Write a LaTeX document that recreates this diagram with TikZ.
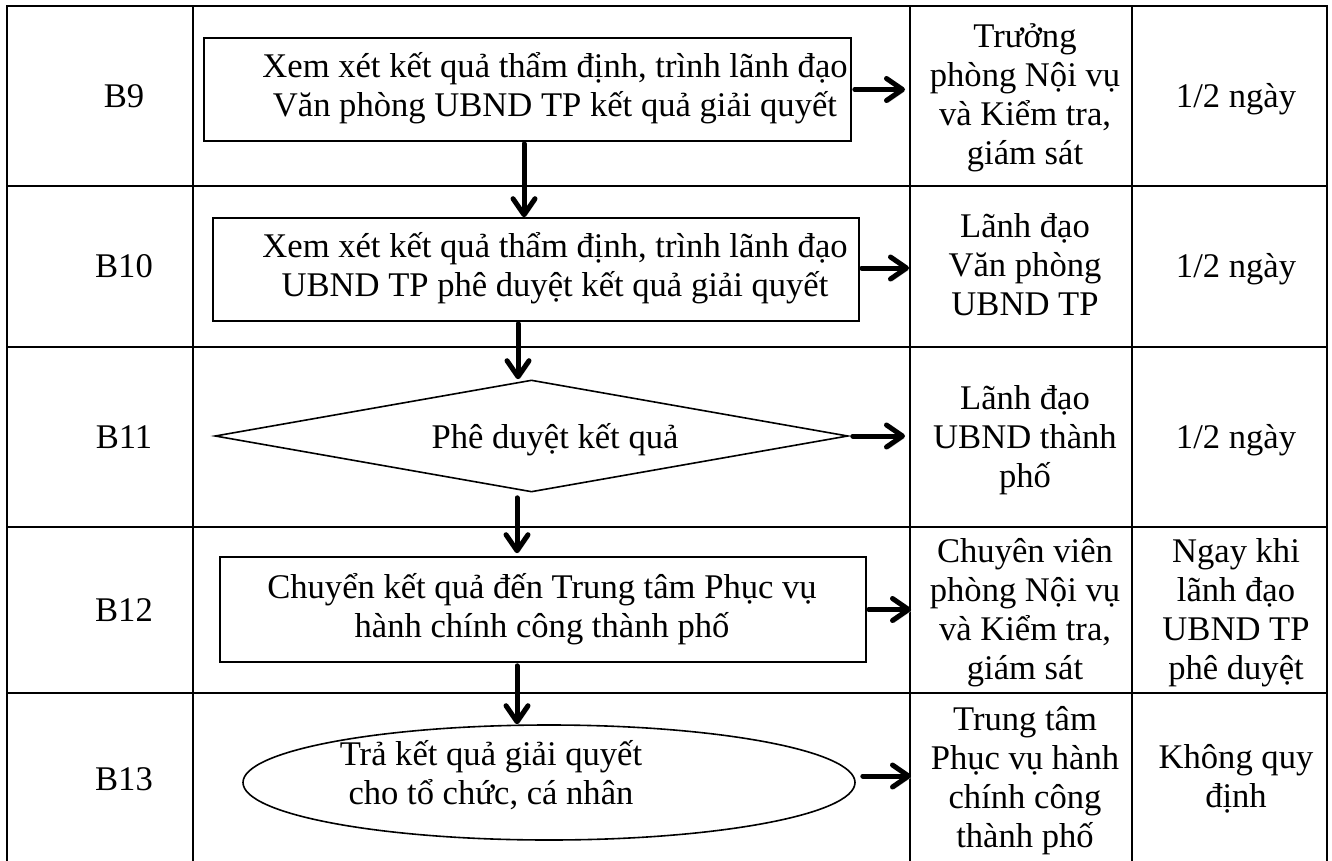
\documentclass[tikz,border=0pt]{standalone}
\usepackage{fontspec}
\setmainfont{Liberation Serif}
\usetikzlibrary{arrows.meta,shapes.geometric,calc}
\begin{document}
\begin{tikzpicture}[x=0.5pt,y=-0.5pt,
  every node/.style={font=\fontsize{17.3}{19.5}\selectfont},
  grid/.style={line width=1pt},
  box/.style={draw, line width=0.8pt, inner sep=0pt},
  txt/.style={anchor=base, align=flush center, inner sep=0pt},
  arr/.style={line width=2.5pt, line cap=round,
    -{Straight Barb[length=8pt,width=11pt,round]},
    preaction={draw=black!22, transform canvas={shift={(0.8pt,-1pt)}}}},
]
\useasboundingbox (0,0) rectangle (1332,861);
% table grid
\draw[grid] (7,861) -- (7,6) -- (1327,6) -- (1327,861);
\draw[grid] (193,6) -- (193,861) (910,6) -- (910,861) (1132,6) -- (1132,861);
\draw[grid] (7,186) -- (1327,186) (7,347) -- (1327,347) (7,527) -- (1327,527) (7,693) -- (1327,693);

% shapes
\node[box, minimum width=323.5pt, minimum height=51.5pt] (b9) at (527.5,89.5) {};
\node[box, minimum width=323pt, minimum height=51.5pt] (b10) at (536,269.5) {};
\node[box, diamond, minimum width=316.5pt, minimum height=56pt] (b11) at (531.5,436) {};
\node[box, minimum width=323pt, minimum height=52.5pt] (b12) at (543,609.5) {};
\node[box, ellipse, minimum width=306pt, minimum height=57.5pt] (b13) at (549,782.5) {};

% texts in shapes
\node[txt, text width=340pt] (x9) at (555,77.5) {Xem xét kết quả thẩm định, trình lãnh đạo\\Văn phòng UBND TP kết quả giải quyết};
\node[txt, text width=340pt] (x10) at (555,257.5) {Xem xét kết quả thẩm định, trình lãnh đạo\\UBND TP phê duyệt kết quả giải quyết};
\node[txt, text width=340pt] (x11) at (555,448) {Phê duyệt kết quả};
\node[txt, text width=340pt] (x12) at (542,598.5) {Chuyển kết quả đến Trung tâm Phục vụ\\hành chính công thành phố};
\node[txt, text width=200pt] (x13) at (491,765) {Trả kết quả giải quyết\\cho tổ chức, cá nhân};

% step labels
\node[txt, text width=80pt] (l9) at (124,108) {B9};
\node[txt, text width=80pt] (l10) at (124,278) {B10};
\node[txt, text width=80pt] (l11) at (124,448) {B11};
\node[txt, text width=80pt] (l12) at (124,621) {B12};
\node[txt, text width=80pt] (l13) at (124,790) {B13};

% responsible
\node[txt, text width=120pt] (r9) at (1025,48) {Trưởng\\phòng Nội vụ\\và Kiểm tra,\\giám sát};
\node[txt, text width=120pt] (r10) at (1025,238) {Lãnh đạo\\Văn phòng\\UBND TP};
\node[txt, text width=120pt] (r11) at (1025,409) {Lãnh đạo\\UBND thành\\phố};
\node[txt, text width=120pt] (r12) at (1025,562) {Chuyên viên\\phòng Nội vụ\\và Kiểm tra,\\giám sát};
\node[txt, text width=120pt] (r13) at (1025,730) {Trung tâm\\Phục vụ hành\\chính công\\thành phố};

% time
\node[txt, text width=100pt] (t9) at (1236,108) {1/2 ngày};
\node[txt, text width=100pt] (t10) at (1236,278) {1/2 ngày};
\node[txt, text width=100pt] (t11) at (1236,448) {1/2 ngày};
\node[txt, text width=100pt] (t12) at (1236,562) {Ngay khi\\lãnh đạo\\UBND TP\\phê duyệt};
\node[txt, text width=100pt] (t13) at (1236,768) {Không quy\\định};

% arrow ends on the column line
\coordinate (e9) at (905,89.5);
\coordinate (e10) at (909,268);
\coordinate (e11) at (905,436);
\coordinate (e12) at (911,609.5);
\coordinate (e13) at (911,776);

% vertical arrows
\draw[arr] ($(b9.south)+(-3.5,2)$) -- ($(b10.north)+(-12,0)$);
\draw[arr] ($(b10.south)+(-18,2)$) -- ($(b11.north)+(-13.5,0)$);
\draw[arr] ($(b11.south)+(-14.5,5)$) -- ($(b12.north)+(-26,-3)$);
\draw[arr] ($(b12.south)+(-26,3)$) -- ($(b13.north)+(-32,0)$);

% horizontal arrows
\draw[arr] ($(b9.east)+(3,0)$) -- (e9);
\draw[arr] ($(b10.east)+(2,-1.5)$) -- (e10);
\draw[arr] ($(b11.east)+(4,0)$) -- (e11);
\draw[arr] ($(b12.east)+(2,0)$) -- (e12);
\draw[arr] ($(b13.east)+(7,-6.5)$) -- (e13);
\end{tikzpicture}
\end{document}
